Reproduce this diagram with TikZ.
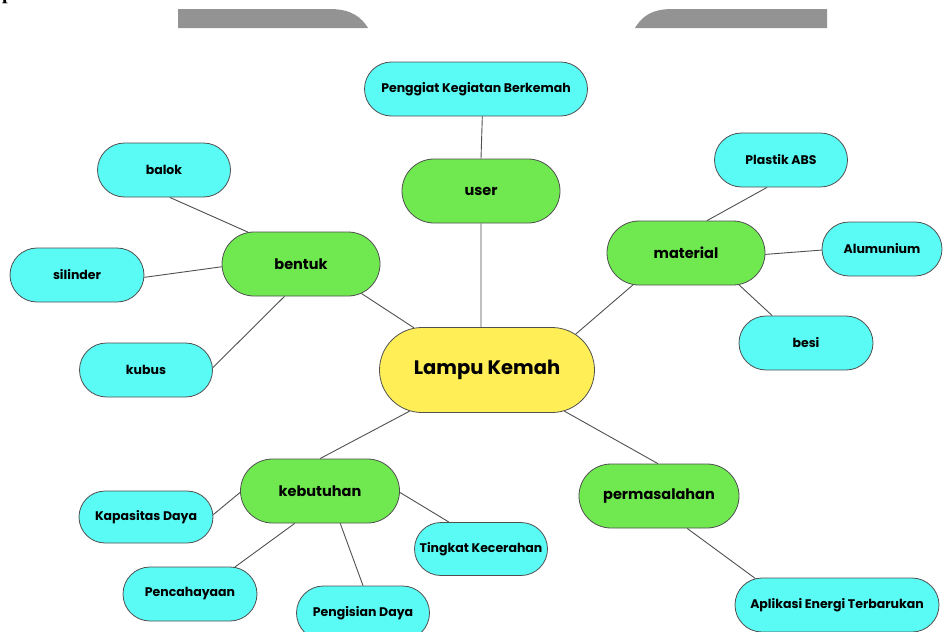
\documentclass[tikz,border=0pt]{standalone}
\usepackage{fontspec}
\setmainfont{Poppins}
\newfontfamily\pagefont{Liberation Serif}
\usetikzlibrary{shapes.misc}
\definecolor{hubyellow}{HTML}{FFEE55}
\definecolor{topicgreen}{HTML}{70E850}
\definecolor{leafcyan}{HTML}{5AFAF5}
\definecolor{edgegray}{HTML}{505050}
\definecolor{tabgray}{HTML}{939393}
\tikzset{x=1pt, y=-1pt,
  box/.style={rounded rectangle, draw=edgegray, line width=0.8pt, inner sep=2pt, font=\bfseries\fontsize{12.5}{15}\selectfont},
  hub/.style={box, fill=hubyellow, minimum width=219pt, minimum height=85pt, font=\bfseries\fontsize{19.5}{22}\selectfont},
  topic/.style={box, fill=topicgreen, minimum width=162pt, minimum height=64pt, font=\bfseries\fontsize{14.5}{17}\selectfont},
  leaf/.style={box, fill=leafcyan, minimum width=137pt, minimum height=54pt},
  link/.style={draw=edgegray, line width=0.9pt}}

\begin{document}
\begin{tikzpicture}
\useasboundingbox (0,0) rectangle (946,632);
\fill[tabgray] (178,9) -- (330,9) .. controls (352,9) and (362,18) .. (368,28) -- (178,28) -- cycle;
\fill[tabgray] (827,9) -- (672,9) .. controls (650,9) and (641,18) .. (635,28) -- (827,28) -- cycle;
\node (pagep) [anchor=base west, inner sep=0pt, font=\pagefont\bfseries\fontsize{20}{22}\selectfont] at (2,-1) {p};

\node (lampu) [hub] at (487,370) {Lampu Kemah};
\node (user) [topic] at (481,191) {user};
\node (bentuk) [topic] at (301,264) {bentuk};
\node (material) [topic] at (686,253) {material};
\node (kebutuhan) [topic, minimum width=163pt] at (320,491) {kebutuhan};
\node (permasalahan) [topic, minimum width=164pt] at (659,496) {permasalahan};

\node (penggiat) [leaf, minimum width=227pt] at (476,89) {Penggiat Kegiatan Berkemah};
\node (balok) [leaf] at (164,170) {balok};
\node (silinder) [leaf, minimum width=138pt] at (77,275) {silinder};
\node (kubus) [leaf] at (146,370) {kubus};
\node (plastik) [leaf] at (781,160) {Plastik ABS};
\node (alumunium) [leaf, minimum width=124pt] at (882,249) {Alumunium};
\node (besi) [leaf, minimum width=138pt] at (806,343) {besi};
\node (kapasitas) [leaf, minimum width=138pt, minimum height=52pt] at (146,517) {Kapasitas Daya};
\node (pencahayaan) [leaf, minimum width=138pt] at (190,594) {Pencahayaan};
\node (pengisian) [leaf] at (363,613) {Pengisian Daya};
\node (tingkat) [leaf, minimum height=53pt] at (481,549) {Tingkat Kecerahan};
\node (aplikasi) [leaf, minimum width=208pt] at (837,605) {Aplikasi Energi Terbarukan};

\draw[link] (user.south) -- (lampu.98);
\draw[link] (penggiat.-77) -- (user.north);
\draw[link] (lampu.150) -- (bentuk.-26);
\draw[link] (lampu.22) -- (material.-149);
\draw[link] (lampu.208) -- (kebutuhan.90);
\draw[link] (lampu.-28) -- (permasalahan.92);
\draw[link] (bentuk.149) -- (balok.-78);
\draw[link] (bentuk.182) -- (silinder.-2);
\draw[link] (bentuk.-117) -- (kubus.2);
\draw[link] (material.57) -- (plastik.-117);
\draw[link] (material.-1) -- (alumunium.181);
\draw[link] (material.-31) -- (besi.141);
\draw[link] (kebutuhan.181) -- (kapasitas.2);
\draw[link] (kebutuhan.-128) -- (pencahayaan.31);
\draw[link] (kebutuhan.-58) -- (pengisian.90);
\draw[link] (kebutuhan.-1) -- (tingkat.140);
\draw[link] (permasalahan.-49) -- (aplikasi.162);
\end{tikzpicture}
\end{document}
